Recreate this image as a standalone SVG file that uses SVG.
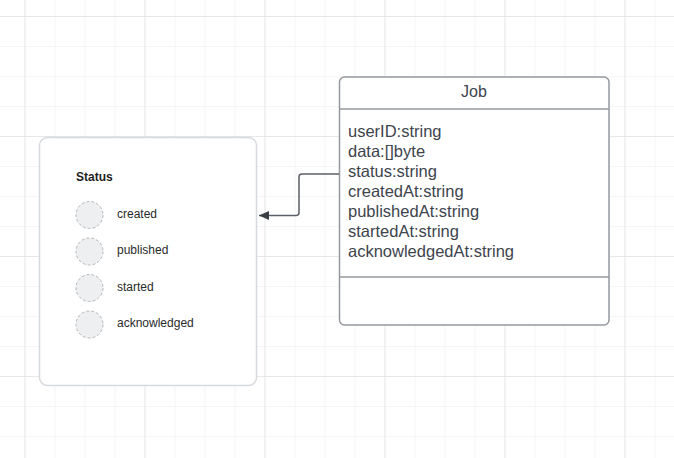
<svg xmlns="http://www.w3.org/2000/svg" width="674" height="458" viewBox="0 0 674 458">
  <defs>
    <pattern id="grid-minor" x="24.5" y="16" width="30" height="30" patternUnits="userSpaceOnUse">
      <path d="M0 0H30M0 0V30" fill="none" stroke="#ececec" stroke-width="1"/>
    </pattern>
    <pattern id="grid-major" x="24.5" y="16" width="120" height="120" patternUnits="userSpaceOnUse">
      <path d="M0 0H120M0 0V120" fill="none" stroke="#dadada" stroke-width="1"/>
    </pattern>
    <marker id="arrow" markerWidth="12" markerHeight="10" refX="10" refY="4.5" orient="auto" markerUnits="userSpaceOnUse">
      <path d="M0 0L10 4.5L0 9Z" fill="#3a3f45"/>
    </marker>
    <style>
      .attr { font-family: "Liberation Sans", Arial, sans-serif; font-size: 16.5px; fill: #3d444d; }
      .title { font-family: "Liberation Sans", Arial, sans-serif; font-size: 16px; fill: #3d444d; }
      .legend-title { font-family: "Liberation Sans", Arial, sans-serif; font-size: 12px; font-weight: bold; fill: #1e1e1e; }
      .legend-label { font-family: "Liberation Sans", Arial, sans-serif; font-size: 12px; fill: #2a2a2a; }
      .swatch { fill: #eeeff1; stroke: #b3b6ba; stroke-width: 1; stroke-dasharray: 3 2; }
    </style>
  </defs>

  <!-- canvas grid -->
  <rect width="674" height="458" fill="#ffffff"/>
  <rect width="674" height="458" fill="url(#grid-minor)"/>
  <rect width="674" height="458" fill="url(#grid-major)"/>

  <!-- Status legend -->
  <g id="status">
    <rect x="39.5" y="137.5" width="217" height="248" rx="8" fill="#ffffff" stroke="#d6dade" stroke-width="1.5"/>
    <text class="legend-title" x="76" y="181">Status</text>
    <circle class="swatch" cx="89.5" cy="215" r="13.5"/>
    <text class="legend-label" x="117" y="217.5">created</text>
    <circle class="swatch" cx="89.5" cy="251.5" r="13.5"/>
    <text class="legend-label" x="117" y="254">published</text>
    <circle class="swatch" cx="89.5" cy="288" r="13.5"/>
    <text class="legend-label" x="117" y="290.5">started</text>
    <circle class="swatch" cx="89.5" cy="324.5" r="13.5"/>
    <text class="legend-label" x="117" y="327">acknowledged</text>
  </g>

  <!-- Job class -->
  <g id="job">
    <rect x="339.5" y="77" width="269.5" height="248" rx="5" fill="#ffffff" stroke="#94989d" stroke-width="1.5"/>
    <line x1="339.5" y1="109" x2="609" y2="109" stroke="#94989d" stroke-width="1.5"/>
    <line x1="339.5" y1="277" x2="609" y2="277" stroke="#94989d" stroke-width="1.5"/>
    <text class="title" x="474" y="97" text-anchor="middle">Job</text>
    <text class="attr" x="348" y="137">userID:string</text>
    <text class="attr" x="348" y="157">data:[]byte</text>
    <text class="attr" x="348" y="177">status:string</text>
    <text class="attr" x="348" y="197">createdAt:string</text>
    <text class="attr" x="348" y="217">publishedAt:string</text>
    <text class="attr" x="348" y="237">startedAt:string</text>
    <text class="attr" x="348" y="257">acknowledgedAt:string</text>
  </g>

  <!-- connectors -->
  <g id="connectors" fill="none" stroke="#5b6066" stroke-width="1.5">
    <path d="M339 174H302Q299 174 299 177V212.5Q299 215.5 296 215.5H259" marker-end="url(#arrow)"/>
  </g>
</svg>
